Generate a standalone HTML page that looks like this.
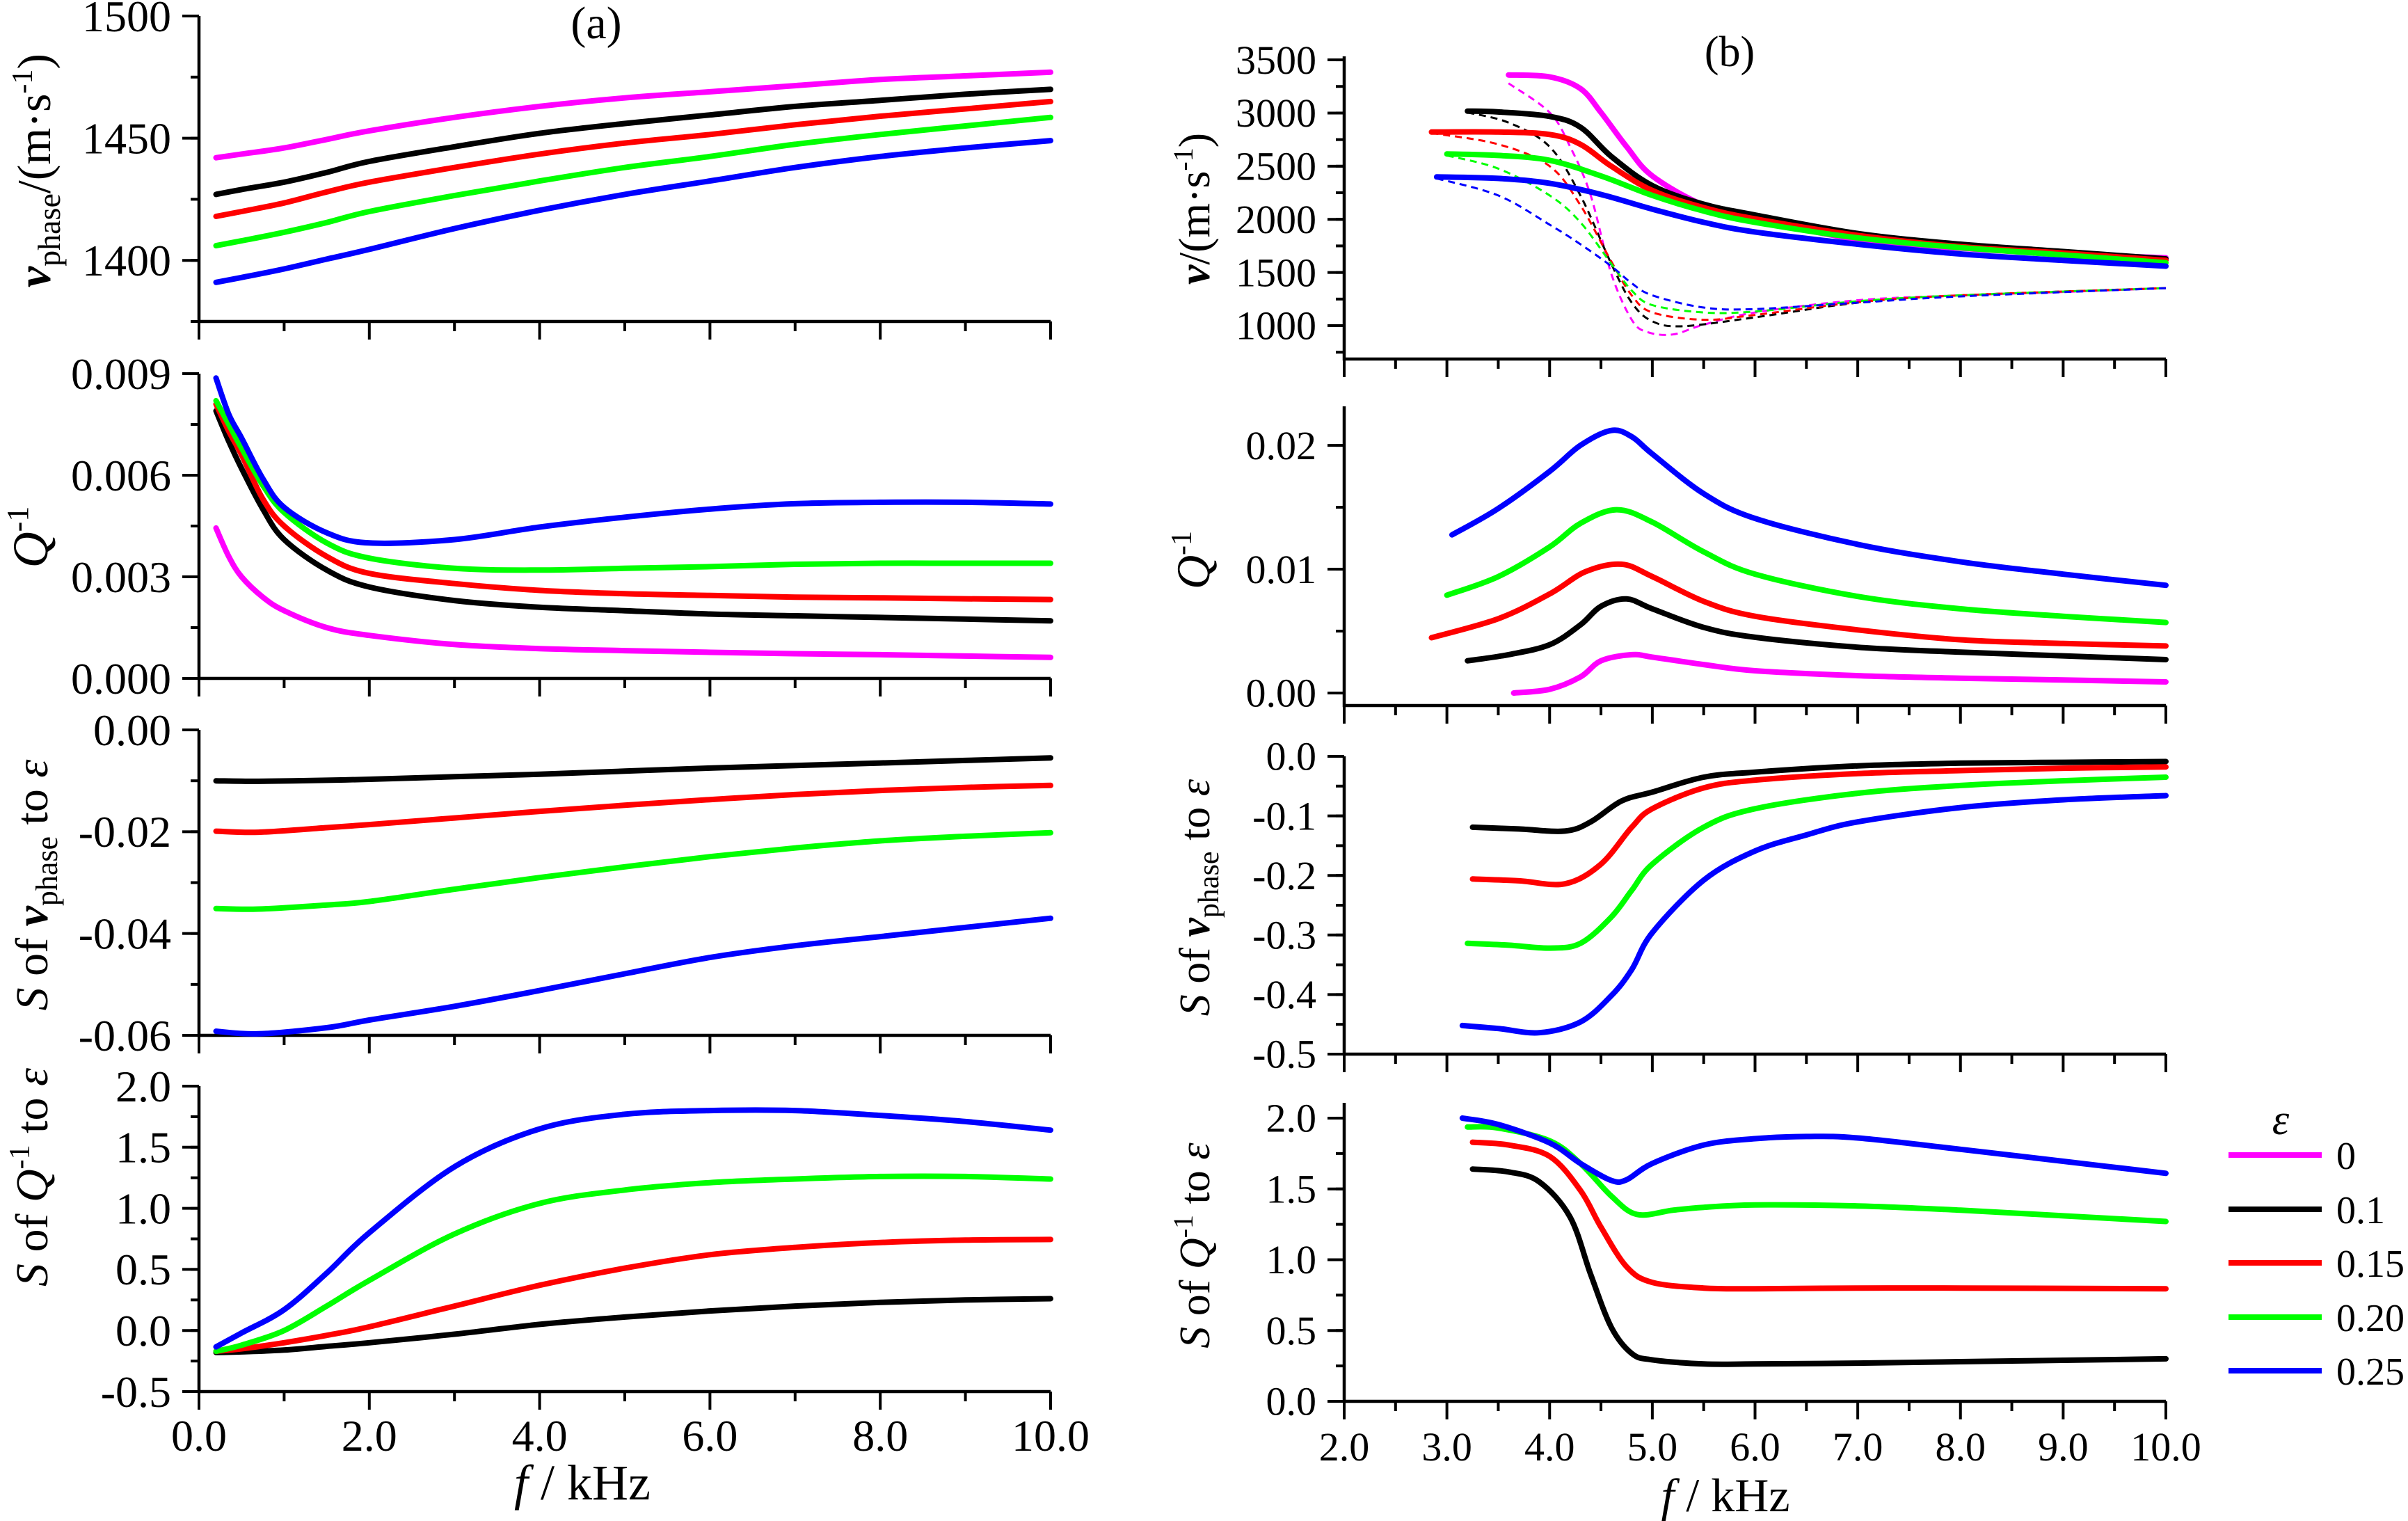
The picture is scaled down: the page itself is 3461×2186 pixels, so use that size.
<!DOCTYPE html>
<html><head><meta charset="utf-8">
<style>
html,body{margin:0;padding:0;background:#fff;}
svg{display:block;}
svg text{font-family:"Liberation Serif","Times New Roman",serif;}
</style></head>
<body>
<svg id="chart" width="3461" height="2186" viewBox="0 0 3461 2186" font-family="Liberation Serif, serif" xmlns="http://www.w3.org/2000/svg">
<rect width="3461" height="2186" fill="#fff"/>
<text x="857" y="55" font-size="66" text-anchor="middle" font-family="Liberation Serif, serif">(a)</text>
<text x="2486" y="95" font-size="62" text-anchor="middle" font-family="Liberation Serif, serif">(b)</text>

<text transform="translate(72,245) rotate(-90)" font-size="68" text-anchor="middle" font-family="Liberation Serif, serif"><tspan font-weight="bold" font-style="italic">v</tspan><tspan font-size="46" dy="14">phase</tspan><tspan dy="-14">/(m·s</tspan><tspan font-size="42" dy="-26">-1</tspan><tspan dy="26">)</tspan></text>
<text transform="translate(68,772) rotate(-90)" font-size="72" text-anchor="middle" font-family="Liberation Serif, serif"><tspan font-style="italic">Q</tspan><tspan font-size="44" dy="-28">-1</tspan></text>
<text transform="translate(68,1272) rotate(-90)" font-size="66" text-anchor="middle" font-family="Liberation Serif, serif"><tspan font-style="italic">S</tspan> of <tspan font-weight="bold" font-style="italic">v</tspan><tspan font-size="44" dy="14">phase</tspan><tspan dy="-14"> to </tspan><tspan font-style="italic">ε</tspan></text>
<text transform="translate(68,1692) rotate(-90)" font-size="66" text-anchor="middle" font-family="Liberation Serif, serif"><tspan font-style="italic">S</tspan> of <tspan font-style="italic">Q</tspan><tspan font-size="42" dy="-26">-1</tspan><tspan dy="26"> to </tspan><tspan font-style="italic">ε</tspan></text>
<text transform="translate(1738,300) rotate(-90)" font-size="64" text-anchor="middle" font-family="Liberation Serif, serif"><tspan font-weight="bold" font-style="italic">v</tspan>/(m·s<tspan font-size="40" dy="-24">-1</tspan><tspan dy="24">)</tspan></text>
<text transform="translate(1738,805) rotate(-90)" font-size="68" text-anchor="middle" font-family="Liberation Serif, serif"><tspan font-style="italic">Q</tspan><tspan font-size="42" dy="-26">-1</tspan></text>
<text transform="translate(1738,1290) rotate(-90)" font-size="62" text-anchor="middle" font-family="Liberation Serif, serif"><tspan font-style="italic">S</tspan> of <tspan font-weight="bold" font-style="italic">v</tspan><tspan font-size="42" dy="13">phase</tspan><tspan dy="-13"> to </tspan><tspan font-style="italic">ε</tspan></text>
<text transform="translate(1738,1790) rotate(-90)" font-size="62" text-anchor="middle" font-family="Liberation Serif, serif"><tspan font-style="italic">S</tspan> of <tspan font-style="italic">Q</tspan><tspan font-size="40" dy="-24">-1</tspan><tspan dy="24"> to </tspan><tspan font-style="italic">ε</tspan></text>

<text x="837" y="2155" font-size="72" text-anchor="middle" font-family="Liberation Serif, serif"><tspan font-style="italic">f</tspan> / kHz</text>
<text x="2480" y="2172" font-size="68" text-anchor="middle" font-family="Liberation Serif, serif"><tspan font-style="italic">f</tspan> / kHz</text>

<g id="legend">
<text x="3278" y="1630" font-size="62" font-style="italic" text-anchor="middle" font-family="Liberation Serif, serif">ε</text>
</g>
</svg>
<script>
const colors = ['#ff00ff','#000000','#ff0000','#00ff00','#0000ff'];
const legendLabels = ['0','0.1','0.15','0.20','0.25'];

const a1X = [0.2,0.5,1,1.5,2,3,4,5,6,7,8,9,10];
const a1Y0 = [1442,1443.5,1446,1449.5,1453,1458.5,1463,1466.5,1469,1471.5,1474,1475.5,1477];
const a1Y1 = [1427,1429,1432,1436,1440.5,1446.5,1452,1456,1459.5,1463,1465.5,1468,1470];
const a1Y2 = [1418,1420,1423.5,1428,1432,1438,1443.5,1448,1451.5,1455.5,1459,1462,1465];
const a1Y3 = [1406,1408,1411.5,1415.5,1420,1426.5,1432.5,1438,1442.5,1447.5,1451.5,1455,1458.5];
const a1Y4 = [1391,1393,1396.5,1400.5,1404.5,1413,1420.5,1427,1432.5,1438,1442.5,1446,1449];

const a2X = [0.2,0.35,0.5,0.75,1,1.5,2,3,4,5,6,7,8,9,10];
const a2Y0 = [0.00444,0.0036,0.0030,0.0024,0.0020,0.0015,0.00127,0.0010,0.00088,0.00082,0.00077,0.00073,0.0007,0.00066,0.00062];
const a2Y1 = [0.0079,0.0070,0.0062,0.0050,0.0041,0.0032,0.0027,0.0023,0.0021,0.0020,0.0019,0.00185,0.0018,0.00175,0.0017];
const a2Y2 = [0.0081,0.0073,0.0066,0.0053,0.0045,0.0036,0.0031,0.0028,0.0026,0.0025,0.00245,0.0024,0.00238,0.00235,0.00233];
const a2Y3 = [0.0082,0.0075,0.0068,0.0057,0.0049,0.0040,0.00355,0.00325,0.0032,0.00325,0.0033,0.00337,0.0034,0.0034,0.0034];
const a2Y4 = [0.00887,0.0078,0.0071,0.0059,0.00505,0.0043,0.0040,0.0041,0.00447,0.00476,0.0050,0.00516,0.0052,0.0052,0.00515];

const a3X = [0.2,0.7,1.5,2,3,4,5,6,7,8,9,10];
const a3Y1 = [-0.0100,-0.0101,-0.0099,-0.0097,-0.0092,-0.0087,-0.0081,-0.0075,-0.0070,-0.0065,-0.0060,-0.0055];
const a3Y2 = [-0.0199,-0.0201,-0.0192,-0.0186,-0.0173,-0.0160,-0.0148,-0.0137,-0.0127,-0.0119,-0.0113,-0.0109];
const a3Y3 = [-0.0351,-0.0352,-0.0344,-0.0337,-0.0313,-0.0290,-0.0269,-0.0249,-0.0232,-0.0218,-0.0209,-0.0202];
const a3Y4 = [-0.0592,-0.0597,-0.0585,-0.0570,-0.0543,-0.0512,-0.0479,-0.0447,-0.0424,-0.0406,-0.0388,-0.0370];

const a4X = [0.2,0.5,1,1.5,2,3,4,5,6,7,8,9,10];
const a4Y1 = [-0.18,-0.175,-0.16,-0.13,-0.10,-0.03,0.05,0.11,0.16,0.20,0.23,0.25,0.26];
const a4Y2 = [-0.17,-0.15,-0.10,-0.04,0.03,0.20,0.37,0.51,0.62,0.68,0.72,0.74,0.745];
const a4Y3 = [-0.17,-0.12,0.0,0.20,0.41,0.79,1.04,1.15,1.21,1.24,1.26,1.26,1.24];
const a4Y4 = [-0.134,-0.02,0.17,0.47,0.80,1.34,1.65,1.77,1.80,1.80,1.76,1.71,1.64];

const b1X0 = [3.6,4.0,4.3,4.5,4.75,5,5.5,6,7,8,9,10];
const b1Y0 = [3358,3340,3230,3005,2683,2408,2133,2004,1812,1729,1674,1638];
const b1X1 = [3.2,3.5,4.0,4.3,4.6,5,5.5,6,7,8,9,10];
const b1Y1 = [3018,3010,2968,2867,2592,2317,2142,2041,1867,1766,1697,1628];
const b1X2 = [2.85,3.5,4.0,4.3,4.6,5,5.5,6,7,8,9,10];
const b1Y2 = [2821,2821,2798,2706,2500,2271,2110,2004,1849,1743,1683,1614];
const b1X3 = [3.0,3.5,4.0,4.5,5,5.5,6,7,8,9,10];
const b1Y3 = [2615,2601,2555,2408,2225,2078,1972,1826,1734,1665,1592];
const b1X4 = [2.9,3.5,4.0,4.5,5,5.5,6,7,8,9,10];
const b1Y4 = [2399,2385,2339,2234,2096,1972,1881,1766,1674,1614,1560];
const b1dX0 = [3.6,4.0,4.2,4.4,4.6,4.8,4.95,5.2,5.5,6,7,8,9,10];
const b1dY0 = [3280,3005,2683,2225,1490,1055,940,917,1009,1124,1239,1285,1317,1353];
const b1dX1 = [3.2,3.6,4.0,4.3,4.6,4.8,5.0,5.3,6,7,8,10];
const b1dY1 = [3005,2910,2683,2225,1583,1216,1041,995,1078,1216,1285,1353];
const b1dX2 = [2.85,3.5,4.0,4.3,4.6,4.8,5.0,5.5,6,7,8,10];
const b1dY2 = [2812,2706,2500,2133,1605,1285,1124,1055,1101,1220,1285,1353];
const b1dX3 = [3.0,3.5,4.0,4.3,4.6,4.8,5.0,5.5,6,7,8,10];
const b1dY3 = [2601,2477,2225,1972,1583,1330,1193,1124,1133,1230,1285,1353];
const b1dX4 = [2.9,3.5,4.0,4.3,4.6,4.8,5.0,5.5,6,7,8,10];
const b1dY4 = [2385,2225,1950,1766,1560,1399,1285,1170,1156,1216,1275,1353];

const b2X0 = [3.65,4.0,4.3,4.5,4.8,5.0,5.5,6,7,8,9,10];
const b2Y0 = [0.0,0.0003,0.0013,0.0026,0.0031,0.0029,0.0023,0.0018,0.0014,0.0012,0.00105,0.0009];
const b2X1 = [3.2,3.6,4.0,4.3,4.5,4.75,5.0,5.5,6,7,8,9,10];
const b2Y1 = [0.0026,0.0031,0.0039,0.0055,0.0070,0.0076,0.0068,0.0053,0.0045,0.0037,0.0033,0.0030,0.0027];
const b2X2 = [2.85,3.5,4.0,4.35,4.7,5.0,5.5,6,7,8,9,10];
const b2Y2 = [0.00447,0.0060,0.0080,0.0098,0.0104,0.0094,0.0074,0.0062,0.0051,0.0043,0.0040,0.0038];
const b2X3 = [3.0,3.5,4.0,4.3,4.65,5.0,5.5,6,7,8,9,10];
const b2Y3 = [0.0079,0.0094,0.0118,0.0137,0.0148,0.0138,0.0114,0.0096,0.0078,0.0068,0.0062,0.0057];
const b2X4 = [3.05,3.5,4.0,4.3,4.6,4.8,5.0,5.5,6,7,8,9,10];
const b2Y4 = [0.01277,0.0149,0.0179,0.0200,0.0212,0.0207,0.0193,0.0161,0.0141,0.0120,0.0106,0.0096,0.0087];

const b3X1 = [3.25,3.7,4.15,4.4,4.7,5.0,5.5,6,7,8,9,10];
const b3Y1 = [-0.119,-0.122,-0.1255,-0.11,-0.075,-0.06,-0.035,-0.0265,-0.016,-0.0115,-0.010,-0.0088];
const b3X2 = [3.25,3.7,4.15,4.5,4.8,5.0,5.5,6,7,8,9,10];
const b3Y2 = [-0.206,-0.209,-0.214,-0.181,-0.119,-0.088,-0.053,-0.040,-0.029,-0.024,-0.020,-0.0177];
const b3X3 = [3.2,3.6,4.0,4.3,4.6,4.8,5.0,5.5,6,7,8,9,10];
const b3Y3 = [-0.314,-0.317,-0.322,-0.314,-0.27,-0.225,-0.181,-0.119,-0.088,-0.062,-0.049,-0.041,-0.035];
const b3X4 = [3.15,3.5,3.9,4.3,4.6,4.8,5.0,5.5,6,6.5,7,8,9,10];
const b3Y4 = [-0.452,-0.457,-0.464,-0.446,-0.402,-0.358,-0.296,-0.208,-0.159,-0.132,-0.110,-0.086,-0.073,-0.066];

const b4X1 = [3.25,3.6,3.9,4.2,4.4,4.6,4.8,5.0,5.5,6,7,8,9,10];
const b4Y1 = [1.64,1.62,1.55,1.30,0.896,0.524,0.338,0.293,0.264,0.264,0.27,0.28,0.29,0.30];
const b4X2 = [3.25,3.6,4.0,4.3,4.5,4.75,5.0,5.5,6,7,8,10];
const b4Y2 = [1.83,1.81,1.73,1.49,1.23,0.95,0.84,0.80,0.795,0.80,0.80,0.795];
const b4X3 = [3.2,3.5,4.0,4.3,4.6,4.85,5.2,5.5,6,7,8,9,10];
const b4Y3 = [1.937,1.93,1.84,1.68,1.45,1.32,1.35,1.37,1.387,1.38,1.35,1.31,1.27];
const b4X4 = [3.15,3.5,4.0,4.3,4.6,4.75,5.0,5.5,6,6.5,7,8,9,10];
const b4Y4 = [2.0,1.955,1.825,1.68,1.56,1.565,1.68,1.81,1.855,1.87,1.86,1.78,1.695,1.61];

const aXTicks = [0,2,4,6,8,10];
const aXTickLabels = ['0.0','2.0','4.0','6.0','8.0','10.0'];
const bXTicks = [2,3,4,5,6,7,8,9,10];
const bXTickLabels = ['2.0','3.0','4.0','5.0','6.0','7.0','8.0','9.0','10.0'];
const a1Ticks = [1400,1450,1500]; const a1Labels = ['1400','1450','1500'];
const a2Ticks = [0,0.003,0.006,0.009]; const a2Labels = ['0.000','0.003','0.006','0.009'];
const a3Ticks = [-0.06,-0.04,-0.02,0]; const a3Labels = ['-0.06','-0.04','-0.02','0.00'];
const a4Ticks = [-0.5,0,0.5,1,1.5,2]; const a4Labels = ['-0.5','0.0','0.5','1.0','1.5','2.0'];
const b1Ticks = [1000,1500,2000,2500,3000,3500]; const b1Labels = ['1000','1500','2000','2500','3000','3500'];
const b2Ticks = [0,0.01,0.02]; const b2Labels = ['0.00','0.01','0.02'];
const b3Ticks = [-0.5,-0.4,-0.3,-0.2,-0.1,0]; const b3Labels = ['-0.5','-0.4','-0.3','-0.2','-0.1','0.0'];
const b4Ticks = [0,0.5,1,1.5,2]; const b4Labels = ['0.0','0.5','1.0','1.5','2.0'];

const NS = 'http://www.w3.org/2000/svg';
const FONT = 'Liberation Serif, serif';
const svg = document.getElementById('chart');
function mk(tag, attrs, parent) {
  const e = document.createElementNS(NS, tag);
  for (const k in attrs) e.setAttribute(k, attrs[k]);
  (parent || svg).appendChild(e);
  return e;
}
function panel(name, px0, px1, xmin, xmax, py0, py1, ymax, ymin, yMinorStep, xMinorStep, yticks, ylabels, xticks, xlabels, fs, labelGap) {
  const g = mk('g', {});
  
  
  const sx = v => px0 + (v - xmin) / (xmax - xmin) * (px1 - px0);
  const sy = v => py1 - (v - ymin) / (ymax - ymin) * (py1 - py0);
  const ax = mk('path', {d: `M${px0},${py0} V${py1} H${px1}`, fill: 'none', stroke: '#000', 'stroke-width': 4.5}, g);
  
  
  const ys = Math.ceil((ymin - 1e-9) / yMinorStep);
  for (let k = ys; k * yMinorStep <= ymax + 1e-9; k++) {
    const y = sy(k * yMinorStep);
    const t = mk('line', {x1: px0 - 12, x2: px0, y1: y, y2: y, stroke: '#000', 'stroke-width': 4}, g);
    
    
  }
  yticks.forEach((v, i) => {
    const y = sy(v);
    const t = mk('line', {x1: px0 - 24, x2: px0, y1: y, y2: y, stroke: '#000', 'stroke-width': 4}, g);
    
    
    const tx = mk('text', {x: px0 - labelGap, y: y + fs * 0.34, 'font-size': fs, 'text-anchor': 'end', 'font-family': FONT}, g);
    tx.textContent = ylabels[i];
    
    
  });
  for (let v = xmin; v <= xmax + 1e-9; v += xMinorStep) {
    const major = Math.abs(v - Math.round(v)) < 1e-6 && (xMinorStep === 1 ? Math.round(v) % 2 === 0 : true);
    const x = sx(v);
    const t = mk('line', {x1: x, x2: x, y1: py1, y2: py1 + (major ? 26 : 14), stroke: '#000', 'stroke-width': 4}, g);
    
    
  }
  if (xticks) xticks.forEach((v, i) => {
    const tx = mk('text', {x: sx(v), y: py1 + 85, 'font-size': fs, 'text-anchor': 'middle', 'font-family': FONT}, g);
    tx.textContent = xlabels[i];
    
    
  });
  return {g, sx, sy};
}
function smooth(pts) {
  let d = `M${pts[0][0].toFixed(1)},${pts[0][1].toFixed(1)}`;
  for (let i = 0; i < pts.length - 1; i++) {
    const p0 = pts[Math.max(i - 1, 0)], p1 = pts[i], p2 = pts[i + 1], p3 = pts[Math.min(i + 2, pts.length - 1)];
    const c1x = p1[0] + (p2[0] - p0[0]) / 6, c1y = p1[1] + (p2[1] - p0[1]) / 6;
    const c2x = p2[0] - (p3[0] - p1[0]) / 6, c2y = p2[1] - (p3[1] - p1[1]) / 6;
    d += ` C${c1x.toFixed(1)},${c1y.toFixed(1)} ${c2x.toFixed(1)},${c2y.toFixed(1)} ${p2[0].toFixed(1)},${p2[1].toFixed(1)}`;
  }
  return d;
}
function series(P, xs, ys, ci, name, dashed) {
  const pts = xs.map((x, i) => [P.sx(x), P.sy(ys[i])]);
  const attrs = {d: smooth(pts), fill: 'none', stroke: colors[ci], 'stroke-width': dashed ? 3 : 8, 'stroke-linejoin': 'round', 'stroke-linecap': dashed ? 'butt' : 'round'};
  if (dashed) attrs['stroke-dasharray'] = '10,7';
  const p = mk('path', attrs, P.g);
  
  
}

const A1 = panel('panel-a1', 286, 1510, 0, 10, 23, 462, 1500, 1375, 25, 1, a1Ticks, a1Labels, null, null, 64, 40);
[a1Y0, a1Y1, a1Y2, a1Y3, a1Y4].forEach((ys, i) => series(A1, a1X, ys, i, 'a1-line-eps-' + legendLabels[i]));
const A2 = panel('panel-a2', 286, 1510, 0, 10, 537, 975, 0.009, 0, 0.0015, 1, a2Ticks, a2Labels, null, null, 64, 40);
[a2Y0, a2Y1, a2Y2, a2Y3, a2Y4].forEach((ys, i) => series(A2, a2X, ys, i, 'a2-line-eps-' + legendLabels[i]));
const A3 = panel('panel-a3', 286, 1510, 0, 10, 1049, 1488, 0, -0.06, 0.01, 1, a3Ticks, a3Labels, null, null, 64, 40);
[a3Y1, a3Y2, a3Y3, a3Y4].forEach((ys, i) => series(A3, a3X, ys, i + 1, 'a3-line-eps-' + legendLabels[i + 1]));
const A4 = panel('panel-a4', 286, 1510, 0, 10, 1561, 2000, 2, -0.5, 0.25, 1, a4Ticks, a4Labels, aXTicks, aXTickLabels, 64, 40);
[a4Y1, a4Y2, a4Y3, a4Y4].forEach((ys, i) => series(A4, a4X, ys, i + 1, 'a4-line-eps-' + legendLabels[i + 1]));

const B1 = panel('panel-b1', 1932, 3113, 2, 10, 81, 516, 3533, 686, 250, 0.5, b1Ticks, b1Labels, null, null, 58, 40);
[[b1dX0,b1dY0],[b1dX1,b1dY1],[b1dX2,b1dY2],[b1dX3,b1dY3],[b1dX4,b1dY4]].forEach((s, i) => series(B1, s[0], s[1], i, 'b1-dashed-eps-' + legendLabels[i], true));
[[b1X0,b1Y0],[b1X1,b1Y1],[b1X2,b1Y2],[b1X3,b1Y3],[b1X4,b1Y4]].forEach((s, i) => series(B1, s[0], s[1], i, 'b1-line-eps-' + legendLabels[i]));
const B2 = panel('panel-b2', 1932, 3113, 2, 10, 584, 1014, 0.02315, -0.00101, 0.005, 0.5, b2Ticks, b2Labels, null, null, 58, 40);
[[b2X0,b2Y0],[b2X1,b2Y1],[b2X2,b2Y2],[b2X3,b2Y3],[b2X4,b2Y4]].forEach((s, i) => series(B2, s[0], s[1], i, 'b2-line-eps-' + legendLabels[i]));
const B3 = panel('panel-b3', 1932, 3113, 2, 10, 1087, 1515, 0, -0.5, 0.05, 0.5, b3Ticks, b3Labels, null, null, 58, 40);
[[b3X1,b3Y1],[b3X2,b3Y2],[b3X3,b3Y3],[b3X4,b3Y4]].forEach((s, i) => series(B3, s[0], s[1], i + 1, 'b3-line-eps-' + legendLabels[i + 1]));
const B4 = panel('panel-b4', 1932, 3113, 2, 10, 1585, 2014, 2.108, 0, 0.25, 0.5, b4Ticks, b4Labels, bXTicks, bXTickLabels, 58, 40);
[[b4X1,b4Y1],[b4X2,b4Y2],[b4X3,b4Y3],[b4X4,b4Y4]].forEach((s, i) => series(B4, s[0], s[1], i + 1, 'b4-line-eps-' + legendLabels[i + 1]));

const lg = document.getElementById('legend');
const legendRows = [1660, 1738, 1815, 1893, 1970];
legendLabels.forEach((lab, i) => {
  const l = mk('line', {x1: 3203, x2: 3337, y1: legendRows[i], y2: legendRows[i], stroke: colors[i], 'stroke-width': 8}, lg);
  
  
  const t = mk('text', {x: 3358, y: legendRows[i] + 20, 'font-size': 56, 'font-family': FONT}, lg);
  t.textContent = lab;
  
  
});
</script>
</body></html>
